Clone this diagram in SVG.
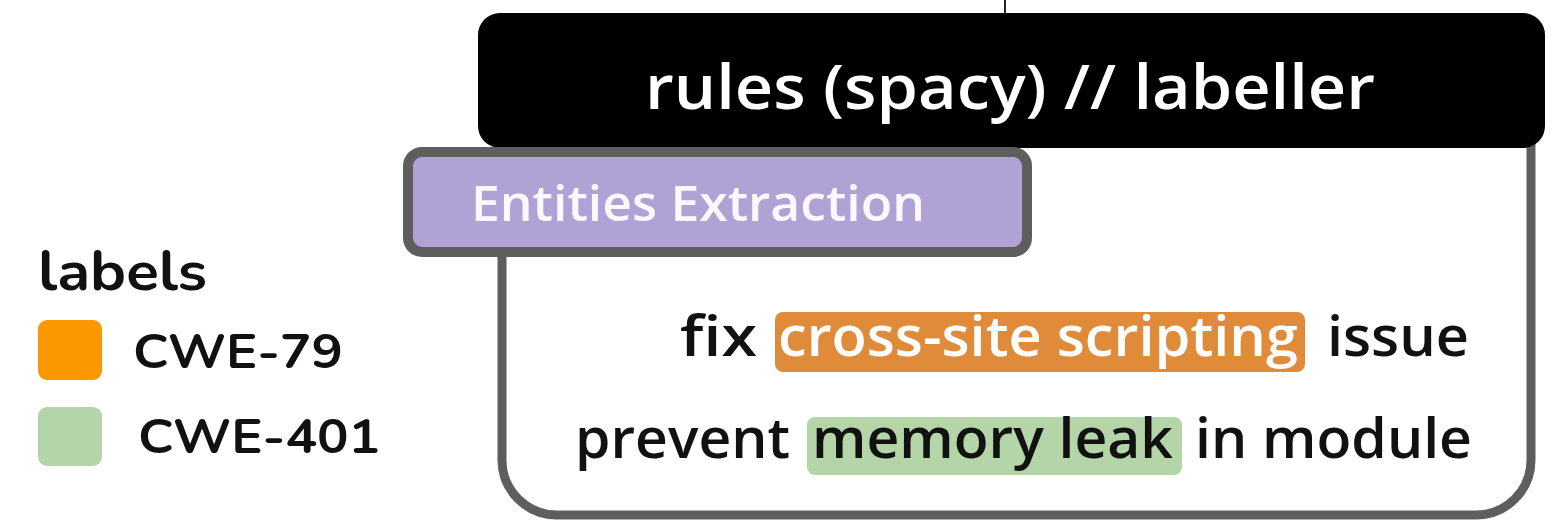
<svg xmlns="http://www.w3.org/2000/svg" width="1557" height="520" viewBox="0 0 1557 520">
  <style>
    .t { font-family: "Open Sans", "Noto Sans", "DejaVu Sans", sans-serif; }
    .hdr { font-size: 62px; font-weight: 600; fill: #ffffff; }
    .sub { font-size: 48px; font-weight: 600; fill: #fbf9ff; }
    .body { font-size: 56px; font-weight: 600; fill: #111111; }
    .hl { fill: #ffffff; }
    .leg { font-family: "Nunito", "Open Sans", "DejaVu Sans", sans-serif; font-weight: 700; fill: #111111; }
    .frame { stroke: #5e5e5e; stroke-width: 9; }
  </style>
  <rect width="1557" height="520" fill="#ffffff"/>

  <g id="connectors">
    <line x1="1005" y1="0" x2="1005" y2="14" stroke="#222222" stroke-width="2"/>
  </g>

  <g id="labeller">
    <path class="frame" d="M502,140 V460 A55,55 0 0 0 557,515 H1476 A55,55 0 0 0 1531,460 V140" fill="#ffffff"/>
    <rect x="478" y="13" width="1067" height="135" rx="22" fill="#000000"/>
    <text class="t hdr" x="645" y="109" textLength="730" lengthAdjust="spacingAndGlyphs">rules (spacy) // labeller</text>
  </g>

  <g id="entities-extraction">
    <rect x="408" y="152" width="619" height="100" rx="14" fill="#b1a2d6" stroke="#5e5e5e" stroke-width="10"/>
    <text class="t sub" x="471" y="221" textLength="454" lengthAdjust="spacingAndGlyphs">Entities Extraction</text>
  </g>

  <g id="sentence-1">
    <rect x="775" y="312" width="530" height="60" rx="8" fill="#e08b39"/>
    <text class="t body" x="680" y="356" textLength="77" lengthAdjust="spacingAndGlyphs">fix</text>
    <text class="t body hl" x="778" y="356" textLength="520" lengthAdjust="spacingAndGlyphs">cross-site scripting</text>
    <text class="t body" x="1327" y="356" textLength="142" lengthAdjust="spacingAndGlyphs">issue</text>
  </g>

  <g id="sentence-2">
    <rect x="807" y="417" width="375" height="58" rx="8" fill="#b3d5a8"/>
    <text class="t body" x="575" y="458" textLength="215" lengthAdjust="spacingAndGlyphs">prevent</text>
    <text class="t body" x="812" y="458" textLength="361" lengthAdjust="spacingAndGlyphs">memory leak</text>
    <text class="t body" x="1195" y="458" textLength="277" lengthAdjust="spacingAndGlyphs">in module</text>
  </g>

  <g id="legend">
    <text class="leg" x="38" y="290" font-size="56" textLength="169" lengthAdjust="spacingAndGlyphs">labels</text>
    <rect x="38" y="320" width="64" height="60" rx="9" fill="#fb9800"/>
    <text class="leg" x="133" y="368" font-size="48" textLength="210" lengthAdjust="spacingAndGlyphs">CWE-79</text>
    <rect x="38" y="407" width="64" height="59" rx="9" fill="#b3d5a8"/>
    <text class="leg" x="138" y="453" font-size="48" textLength="242" lengthAdjust="spacingAndGlyphs">CWE-401</text>
  </g>
</svg>
